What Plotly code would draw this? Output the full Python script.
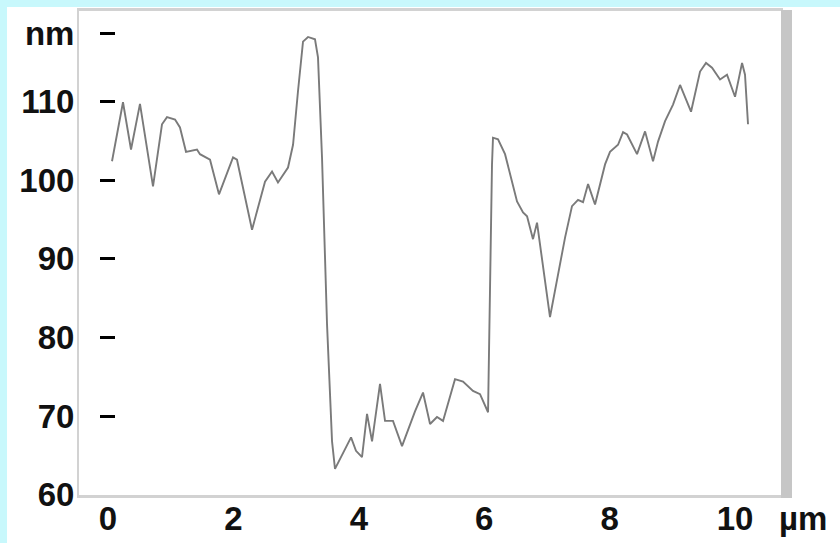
import plotly.graph_objects as go

# profile distance (µm) and height (nm)
dist_um = [0.064, 0.239, 0.367, 0.510, 0.718, 0.861, 0.941, 1.069, 1.148, 1.244,
           1.419, 1.467, 1.627, 1.770, 1.994, 2.057, 2.297, 2.504, 2.616, 2.711,
           2.871, 2.951, 3.030, 3.110, 3.190, 3.301, 3.349, 3.413, 3.493, 3.573,
           3.620, 3.748, 3.876, 3.955, 4.051, 4.131, 4.211, 4.338, 4.418, 4.545,
           4.689, 4.896, 5.024, 5.136, 5.247, 5.343, 5.534, 5.662, 5.821, 5.933,
           6.061, 6.124, 6.140, 6.220, 6.332, 6.523, 6.619, 6.683, 6.778, 6.842,
           7.049, 7.177, 7.289, 7.400, 7.496, 7.576, 7.656, 7.767, 7.927, 8.006,
           8.134, 8.214, 8.278, 8.437, 8.565, 8.692, 8.772, 8.884, 9.011, 9.123,
           9.298, 9.442, 9.537, 9.633, 9.761, 9.872, 10.000, 10.112, 10.159, 10.207]
height_nm = [102.4, 109.9, 103.9, 109.7, 99.2, 107.1, 108.0, 107.7, 106.7, 103.6,
             103.9, 103.3, 102.6, 98.2, 102.9, 102.6, 93.7, 99.8, 101.1, 99.7,
             101.6, 104.5, 111.3, 117.6, 118.2, 117.9, 115.6, 102.9, 81.7, 66.8,
             63.3, 65.2, 67.3, 65.6, 64.8, 70.3, 66.8, 74.1, 69.4, 69.4,
             66.2, 70.6, 73.0, 69.0, 69.9, 69.4, 74.7, 74.4, 73.2, 72.8,
             70.5, 102.0, 105.4, 105.2, 103.3, 97.3, 95.9, 95.4, 92.5, 94.6,
             82.6, 88.0, 92.7, 96.7, 97.5, 97.2, 99.5, 96.9, 102.0, 103.6,
             104.5, 106.1, 105.8, 103.3, 106.2, 102.4, 104.9, 107.5, 109.6, 112.1,
             108.7, 113.8, 114.9, 114.3, 112.8, 113.4, 110.6, 114.9, 113.4, 107.1]

x_ticks = [0, 2, 4, 6, 8, 10]
x_tick_text = ["0", "2", "4", "6", "8", "10"]
y_ticks = [60, 70, 80, 90, 100, 110, 118.7]
y_tick_text = ["60", "70", "80", "90", "100", "110", "nm"]
y_dash_ticks = [70, 80, 90, 100, 110, 118.7]
x_unit = "µm"

W, H = 840, 543
L, R, T, B = 79, 59, 11, 48
PW, PH = W - L - R, H - T - B


def px(xp):
    return (xp - L) / PW


def py(yp):
    return (H - B - yp) / PH


label_font = dict(family="Liberation Sans, Arial, sans-serif", size=33,
                  color="#111111", weight="bold")

fig = go.Figure()
fig.add_trace(go.Scatter(x=dist_um, y=height_nm, mode="lines",
                         line=dict(color="#7a7a7a", width=1.9),
                         showlegend=False, hoverinfo="skip"))
fig.add_trace(go.Scatter(x=[None], y=[None], yaxis="y2", showlegend=False,
                         hoverinfo="skip"))

border = "#d2d2d2"
fig.update_layout(
    width=W, height=H,
    margin=dict(l=L, r=R, t=T, b=B, pad=0, autoexpand=False),
    paper_bgcolor="white", plot_bgcolor="white",
    xaxis=dict(range=[-0.4625, 10.733], tickvals=x_ticks, ticktext=x_tick_text,
               ticks="", showgrid=False, zeroline=False, automargin=False,
               showline=True, linecolor=border, linewidth=3, mirror=True,
               tickfont=label_font, ticklabelstandoff=-8),
    yaxis=dict(range=[59.98, 121.5], tickvals=y_ticks, ticktext=y_tick_text,
               ticks="", showgrid=False, zeroline=False, automargin=False,
               showline=True, linecolor=border, linewidth=2, mirror=True,
               tickfont=label_font, ticklabelstandoff=-4),
    yaxis2=dict(overlaying="y", matches="y", anchor="free", side="left",
                position=36 / PW, tickvals=y_dash_ticks, ticks="outside",
                ticklen=15, tickwidth=2.5, tickcolor="#000000",
                showticklabels=False, showline=False, showgrid=False,
                zeroline=False, automargin=False),
    shapes=[
        dict(type="rect", xref="paper", yref="paper", x0=px(0), x1=px(W),
             y0=py(7), y1=py(0), fillcolor="#c8f8fc", line=dict(width=0),
             layer="above"),
        dict(type="rect", xref="paper", yref="paper", x0=px(0), x1=px(7),
             y0=py(H), y1=py(0), fillcolor="#c8f8fc", line=dict(width=0),
             layer="above"),
        dict(type="rect", xref="paper", yref="paper", x0=px(781), x1=px(792),
             y0=py(498), y1=py(10), fillcolor="#c6c6c6", line=dict(width=0),
             layer="above"),
    ],
    annotations=[
        dict(text=x_unit, xref="paper", yref="paper", x=px(803), y=py(518),
             xanchor="center", yanchor="middle", showarrow=False,
             font=label_font),
    ],
)

fig.write_html("out.html", config={"displayModeBar": False},
               post_script="document.body.style.margin='0';"
                           "document.body.style.overflow='hidden';")
